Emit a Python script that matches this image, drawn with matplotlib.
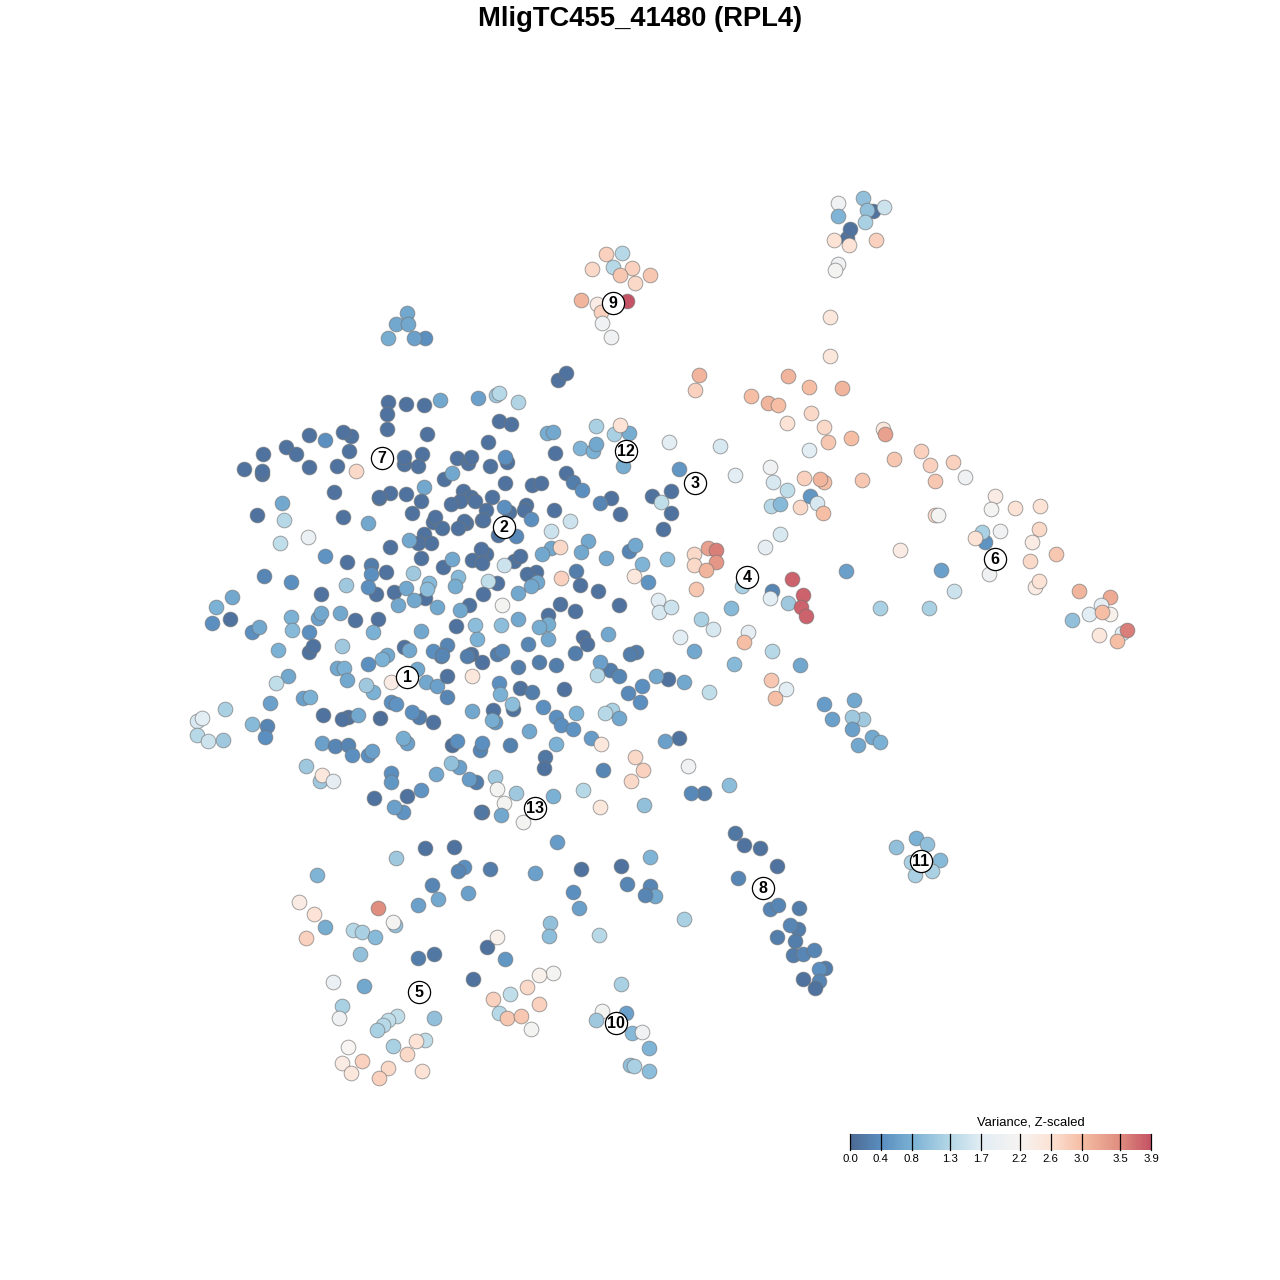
#=======================================================================
# PROGRAM IMPORTS ------------------------------------------------------
import numpy as np
import matplotlib
matplotlib.use("Agg")
import matplotlib.pyplot as plt
from matplotlib.colors import LinearSegmentedColormap

# PROGRAM CONSTANTS ----------------------------------------------------
TITLE = "MligTC455_41480 (RPL4)"
LEGEND_TITLE = "Variance, Z-scaled"

# colour bar stops
TICK_VALUES = [0.0, 0.4, 0.8, 1.3, 1.7, 2.2, 2.6, 3.0, 3.5, 3.9]
TICK_COLORS = ["#4c6b94", "#5b8fc0", "#7bb1d4", "#b6d8e7", "#e2edf4",
               "#f7f4f2", "#fce3d6", "#f6bfa5", "#e08e80", "#c55566"]

# cluster labels: number, x, y
CLUSTER_IDS = [1, 2, 3, 4, 5, 6, 7, 8, 9, 10, 11, 12, 13]
CLUSTER_X = [407, 504, 695, 747, 419, 995, 382, 763, 613, 616, 921, 626, 535]
CLUSTER_Y = [677, 527, 483, 577, 992, 559, 458, 888, 303, 1023, 861, 451, 808]

# cells as (x, y, variance), one list per part of the map
upper_left = [
    (388,402,.1),(406,404,.1),(424,405,.1),(440,400,.7),(387,414,.1),(387,429,.1),
    (427,434,.1),(309,435,.1),(325,440,.4),(351,436,.1),(343,432,.1),(349,451,.1),
    (263,454,.1),(286,447,.1),(296,454,.1),(244,469,.1),(262,474,.1),(262,471,.1),
    (309,467,.1),(337,466,.1),(356,471,2.7),(404,464,.1),(404,457,.1),(422,454,.1),
    (418,466,.1),(457,458,.1),(468,463,.1),(471,457,.1),(444,479,.1),(452,473,.7),
    (334,492,.1),(390,493,.1),(379,498,.1),(379,497,.1),(406,494,.1),(424,487,.7),
    (421,501,.1),(463,491,.1),(471,497,.1),(460,501,.1),(451,504,.1),(475,501,.1),
    (282,503,.7),(257,515,.1),(284,520,1.3),(343,517,.1),(368,523,.7),(412,513,.1),
    (433,522,.1),(435,517,.1),(442,528,.1),(466,523,.1),(464,521,.1),(458,528,.1),
    (482,520,.1),(308,537,1.9),(280,543,1.4),(325,556,.45),(347,562,.1),(371,565,.2),
    (371,574,.4),(386,572,.1),(390,547,.1),(424,534,.1),(418,543,.1),(431,543,.1),
    (409,540,.7),(421,558,.1),(443,567,.1),(452,559,.7),(472,560,.1),(413,573,1.1),
    (264,576,.3),(291,582,.4),(346,585,1.1),(376,594,.1),(368,587,.4),(394,592,.1),
    (406,588,.7),(425,598,.1),(429,583,.9),(427,589,.95),(458,577,.9),(455,586,.75),
    (321,594,.1),(232,597,.7),(216,607,.8),(340,613,.7),(318,618,.6),(321,613,.7),
    (355,620,.1),(378,619,.1),(398,605,.7),(414,600,.7),(437,607,.7),(469,605,.1),
    (460,610,.7),(212,623,.4),(230,619,.1),(252,632,.4),(259,627,.7),(291,617,.8),
    (292,630,.9),(309,632,.4),(373,632,.8),(421,631,.7),(456,626,.1),(475,625,.95),
    (477,639,.8),(278,650,.8),(309,652,.1),(313,646,.1),(342,646,1.1),(404,647,.1),
    (409,650,.7),(441,656,.3),(433,651,.4),(447,645,.3),(471,654,.1),(467,656,.2),
    (387,655,.7),(382,659,.8),(368,664,.4),(337,668,.7),(344,668,.8),
]
lower_left = [
    (288,676,.7),(347,680,.7),(276,683,1.4),(417,669,.7),(391,682,2.4),(373,692,.8),
    (366,685,1.1),(426,682,.7),(437,686,.6),(447,676,.1),(447,697,.3),(472,676,2.5),
    (472,711,.7),(391,702,.4),(396,704,.45),(419,717,.2),(412,712,.4),(433,722,.1),
    (270,703,.6),(303,698,.6),(310,697,.8),(225,709,1.2),(197,721,1.6),(202,718,1.7),
    (252,724,.9),(267,726,.3),(265,737,.4),(197,735,1.3),(208,741,1.5),(223,740,1.1),
    (323,715,.1),(348,717,.1),(342,719,.1),(358,715,.7),(380,718,.05),(322,743,.6),
    (335,746,.3),(348,745,.3),(352,755,.4),(368,755,.4),(372,751,.6),(407,743,.6),
    (403,738,.75),(452,745,.05),(457,741,.4),(480,750,.3),(482,743,.4),(436,774,.7),
    (459,767,.6),(451,763,1.0),(476,782,.2),(469,779,.55),(306,766,1.1),(320,781,1.1),
    (322,775,2.5),(333,781,1.8),(391,773,.4),(391,782,.5),(374,798,.1),(407,796,.1),
    (421,790,.45),(403,812,.45),(394,807,.6),(482,812,.15),
]
centre_top = [
    (478,398,.6),(496,395,1.1),(499,393,1.3),(518,402,1.25),(558,380,.1),(566,373,.1),
    (499,421,.1),(511,424,.1),(488,442,.1),(547,433,.75),(553,432,.7),(596,426,1.2),
    (614,434,1.2),(629,433,.75),(620,425,2.6),(669,442,1.7),(555,453,.1),(580,448,.85),
    (593,451,.8),(596,444,.7),(623,466,.75),(490,466,.1),(507,462,.1),(505,457,.4),
    (505,483,.1),(566,473,.1),(573,482,.2),(582,490,.4),(532,485,.1),(541,483,.1),
    (679,469,.5),(492,497,.1),(486,510,.1),(509,512,.1),(504,507,.4),(526,505,.1),
    (524,510,.1),(531,519,.4),(554,510,.1),(611,498,.1),(600,503,.3),(620,514,.1),
    (652,496,.1),(671,491,.1),(661,502,1.4),(671,513,.1),(663,529,.1),(483,520,.1),
    (570,521,1.5),(551,531,1.5),(498,535,.1),(516,536,.35),(551,548,.7),(560,547,2.7),
    (542,554,.7),(588,541,.7),(581,552,.7),(606,558,.7),(629,551,.3),(635,545,.7),
    (667,559,.95),(642,564,.85),(634,576,2.5),(648,582,.45),(694,554,2.7),(694,565,2.7),
    (696,589,2.9),(486,554,.1),(481,549,.1),(482,563,.1),(514,561,.1),(520,556,.1),
    (504,565,1.5),(536,572,.1),(527,574,.1),(537,582,.7),(531,586,.7),(518,593,.7),
    (576,571,.2),(561,578,2.8),(580,585,.1),(598,591,.1),(497,583,.1),(488,581,1.4),
    (483,594,.1),(502,605,2.1),(560,604,.1),(575,611,.1),(619,605,.1),(658,600,1.7),
    (659,612,1.6),(671,607,1.5),(701,619,1.2),(518,619,.7),(548,615,.1),(548,624,.75),
    (539,627,.75),(501,625,.95),(548,639,.7),(528,644,.3),(583,637,.1),(587,644,.1),
    (608,634,.7),(680,637,1.7),
]
centre_low = [
    (713,629,1.6),(694,651,.7),(636,652,.2),(630,654,.2),(575,653,.2),(442,655,.3),
    (482,662,.1),(497,654,.2),(502,651,.3),(518,667,.2),(539,662,.2),(556,665,.2),
    (610,670,.2),(600,662,.6),(597,675,1.3),(619,676,.3),(668,679,.1),(656,676,.7),
    (684,682,.7),(734,664,.9),(642,686,.4),(628,693,.35),(640,702,.4),(709,692,1.4),
    (499,683,.4),(500,694,.8),(520,688,.1),(532,692,.2),(564,689,.1),(493,710,.1),
    (513,709,.1),(512,704,.95),(495,722,.5),(492,720,.75),(543,707,.4),(529,731,.7),
    (556,717,.4),(561,725,.4),(573,729,.45),(576,713,.8),(612,710,1.2),(605,713,1.3),
    (619,718,.7),(591,738,.55),(601,744,2.5),(556,744,.8),(510,745,.25),(545,757,.15),
    (544,768,.1),(603,770,.3),(679,738,.1),(665,741,.6),(635,757,2.7),(643,770,2.8),
    (631,781,2.7),(688,766,2.0),(704,793,.2),(691,793,.35),(729,785,.95),(495,777,1.1),
    (497,789,2.1),(516,793,1.1),(504,803,2.1),(523,822,2.1),(481,812,.15),(501,815,.7),
    (553,796,.8),(583,790,1.3),(600,807,2.5),(644,805,1.0),(557,842,.55),
]
top_clusters = [
    (863,198,1.0),(838,203,2.0),(873,211,.1),(884,207,1.5),(867,210,1.0),(838,216,.85),
    (865,222,1.2),(847,238,.1),(850,229,.1),(834,240,2.6),(849,245,2.6),(876,240,2.8),
    (838,264,2.0),(835,270,2.1),(606,254,2.8),(622,253,1.3),(613,267,1.3),(592,269,2.7),
    (632,268,2.8),(620,275,2.9),(650,275,2.9),(635,283,2.7),(581,300,3.1),(597,304,2.4),
    (627,301,3.9),(601,312,2.8),(602,323,2.0),(611,337,2.0),(407,313,.7),(396,324,.7),
    (408,324,.7),(388,338,.75),(425,338,.4),(414,338,.6),
]
right_arm = [
    (830,317,2.5),(830,356,2.5),(699,375,3.1),(695,390,2.8),(788,376,3.1),(809,387,3.0),
    (842,388,3.1),(751,396,3.0),(768,403,3.1),(778,405,3.0),(811,413,2.7),(787,423,2.6),
    (824,427,2.7),(828,442,2.9),(851,438,3.0),(883,429,2.5),(885,434,3.3),(894,459,2.9),
    (921,451,2.8),(930,465,2.8),(953,462,2.8),(965,477,2.0),(935,481,2.9),(862,480,2.9),
    (809,450,1.7),(770,467,2.0),(773,482,1.6),(735,475,1.7),(720,446,1.6),(824,482,3.0),
    (804,478,2.8),(820,479,3.1),(787,490,1.4),(771,506,1.3),(780,504,.9),(800,507,2.7),
    (810,496,.5),(817,503,1.6),(823,513,3.0),(780,534,1.6),(765,547,1.8),(995,496,2.4),
    (991,509,2.1),(1015,508,2.6),(1040,506,2.6),(935,515,2.7),(938,515,2.1),(1000,531,2.0),
    (985,542,.45),(982,532,1.2),(975,538,2.6),(1039,529,2.7),(1032,542,2.4),(1030,561,2.7),
    (1056,554,2.9),(900,550,2.4),(941,570,.6),(846,571,.6),(989,574,2.0),(1035,587,2.4),
    (1039,581,2.6),(954,591,1.5),(880,608,1.2),(929,608,1.2),(1079,591,3.1),(1110,597,3.2),
    (1072,620,1.0),(1089,614,1.7),(1101,605,1.8),(1110,614,2.3),(1102,612,3.0),(1099,635,2.5),
    (1122,633,1.7),(1127,630,3.6),(1117,641,3.0),
]
centre_right = [
    (708,548,3.3),(716,550,3.6),(716,562,3.4),(706,570,3.1),(742,586,1.2),(772,591,.3),
    (792,579,3.8),(803,595,3.8),(770,598,1.7),(788,603,1.1),(801,607,3.8),(806,616,3.8),
    (731,608,.9),(748,632,1.8),(744,642,3.0),(772,651,1.3),(800,665,.7),(771,680,2.9),
    (786,689,1.7),(775,698,3.0),(824,704,.55),(854,700,.7),(832,719,.6),(863,719,1.1),
    (852,717,1.1),(852,729,.6),(858,745,.7),(872,737,.7),(880,742,.8),(916,838,.8),
    (927,844,1.0),(896,847,1.0),(911,862,1.2),(940,860,.9),(915,875,1.2),(932,871,1.2),
]
stream_8 = [
    (735,833,.15),(744,845,.1),(760,848,.1),(777,866,.1),(738,878,.3),(770,909,.3),
    (778,905,.3),(799,908,.2),(798,929,.2),(790,925,.3),(777,937,.2),(795,941,.2),
    (793,955,.2),(803,954,.3),(814,950,.3),(825,968,.2),(819,969,.4),(819,981,.3),
    (803,979,.1),(815,988,.1),
]
bottom = [
    (425,848,.1),(454,847,.1),(396,858,1.1),(317,875,.85),(464,867,.4),(458,871,.3),
    (490,869,.2),(535,873,.6),(581,869,.1),(621,866,.1),(650,857,.85),(627,884,.3),
    (650,886,.3),(655,896,.7),(645,895,.3),(432,885,.3),(418,905,.6),(438,899,.7),
    (468,893,.6),(573,892,.4),(579,908,.6),(684,919,1.2),(550,923,1.0),(549,936,.95),
    (599,935,1.3),(299,902,2.4),(314,914,2.6),(378,908,3.5),(306,938,2.8),(325,927,.75),
    (353,930,1.3),(362,932,1.2),(375,937,.9),(395,925,1.0),(393,922,2.1),(360,954,1.0),
    (418,958,.2),(434,954,.15),(487,947,.1),(497,937,2.3),(505,959,.5),(473,979,.1),
    (333,982,1.9),(364,986,.7),(553,973,2.1),(539,975,2.3),(527,987,2.7),(510,994,1.4),
    (493,999,2.8),(539,1004,2.8),(342,1006,1.2),(339,1018,2.0),(499,1013,1.3),(507,1018,2.9),
    (521,1016,2.9),(531,1029,2.1),(621,984,1.2),(434,1018,1.0),(397,1016,1.4),(388,1020,1.4),
    (383,1025,1.3),(377,1030,1.2),(393,1046,1.2),(425,1040,1.4),(416,1041,2.6),(407,1054,2.7),
    (348,1047,2.2),(342,1063,2.4),(362,1061,2.8),(351,1073,2.5),(388,1068,2.7),(379,1078,2.8),
    (422,1071,2.6),(602,1011,2.1),(626,1013,.6),(596,1020,1.1),(632,1033,.9),(642,1032,2.0),
    (649,1048,.85),(630,1065,1.0),(634,1066,1.2),(649,1071,.95),
]

#=======================================================================
# PROGRAM SCRIPT -------------------------------------------------------
plt.rcParams["font.family"] = ["Liberation Sans", "DejaVu Sans"]

vmax = TICK_VALUES[-1]
stops = [(v / vmax, c) for v, c in zip(TICK_VALUES, TICK_COLORS)]
cmap = LinearSegmentedColormap.from_list("variance", stops)

cells = np.array(upper_left + lower_left + centre_top + centre_low
                 + top_clusters + right_arm + centre_right + stream_8 + bottom)

fig = plt.figure(figsize=(12.8, 12.8), dpi=100)
ax = fig.add_axes([0, 0, 1, 1])
ax.set_xlim(0, 1280)
ax.set_ylim(1280, 0)
ax.axis("off")

ax.scatter(cells[:, 0] + 0.5, cells[:, 1] + 0.5, c=cells[:, 2], cmap=cmap, vmin=0, vmax=vmax,
           s=112, edgecolors=(0.45, 0.45, 0.45, 0.65), linewidths=0.7, zorder=2)

# numbered cluster labels
ax.scatter(CLUSTER_X, CLUSTER_Y, s=255, facecolors="white", edgecolors="black",
           linewidths=0.9, zorder=3)
for num, cx, cy in zip(CLUSTER_IDS, CLUSTER_X, CLUSTER_Y):
    ax.text(cx, cy + 0.5, str(num), ha="center", va="center", fontsize=11.5,
            fontweight="bold", color="black", zorder=4)

ax.text(640.5, 19, TITLE, ha="center", va="center", fontsize=19.7,
        fontweight="bold", color="black")

# colour bar
cax = fig.add_axes([850 / 1280, 1 - 1150 / 1280, 301 / 1280, 16 / 1280])
grad = np.linspace(0, vmax, 301).reshape(1, -1)
cax.imshow(grad, aspect="auto", cmap=cmap, vmin=0, vmax=vmax,
           extent=[0, vmax, 0, 1])
cax.set_yticks([])
cax.set_xlim(0, vmax)
for spine in cax.spines.values():
    spine.set_visible(False)
for v in TICK_VALUES:
    cax.axvline(v, color="black", linewidth=0.9, clip_on=False)
cax.set_xticks(TICK_VALUES)
cax.set_xticklabels(["%.1f" % v for v in TICK_VALUES], fontsize=8.2)
cax.tick_params(axis="x", length=0, pad=3.2)
ax.text(1031, 1122.5, LEGEND_TITLE, ha="center", va="center", fontsize=9.4,
        color="black")

fig.savefig("out.png", dpi=100)
